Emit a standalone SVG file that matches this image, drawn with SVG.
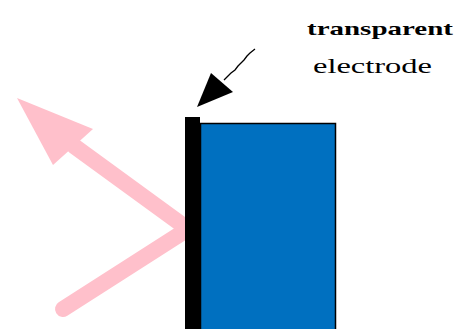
<svg xmlns="http://www.w3.org/2000/svg" width="461" height="329" viewBox="0 0 461 329">
<style>
.lbl{font-family:"Liberation Serif","Times New Roman",serif;fill:#000}
</style>
<rect width="461" height="329" fill="#fff"/>
<g id="light-arrow">
<polyline points="63,309 188,229 74,146" fill="none" stroke="#FFC0CB" stroke-width="16" stroke-linejoin="miter" stroke-linecap="round"/>
<polygon points="17,98 93,129 53,165" fill="#FFC0CB"/>
</g>
<g id="device">
<rect x="200.5" y="123.5" width="135" height="210" fill="#0070C0" stroke="#000" stroke-width="1.5"/>
<rect id="electrode" x="185" y="117" width="15" height="212" fill="#000"/>
</g>
<g id="connectors">
<path d="M255,49 L250,53 L247,56 L244,60 L241,63 L238,66 L235,70 L231,73 L228,76 L224,80" fill="none" stroke="#000" stroke-width="1.3"/>
<polygon points="197,107 211,73 233,92" fill="#000"/>
</g>
<g id="label">
<text class="lbl" x="307" y="35" font-size="19" font-weight="bold" textLength="146" lengthAdjust="spacingAndGlyphs">transparent</text>
<text class="lbl" x="313" y="73" font-size="21" textLength="119" lengthAdjust="spacingAndGlyphs">electrode</text>
</g>
</svg>
